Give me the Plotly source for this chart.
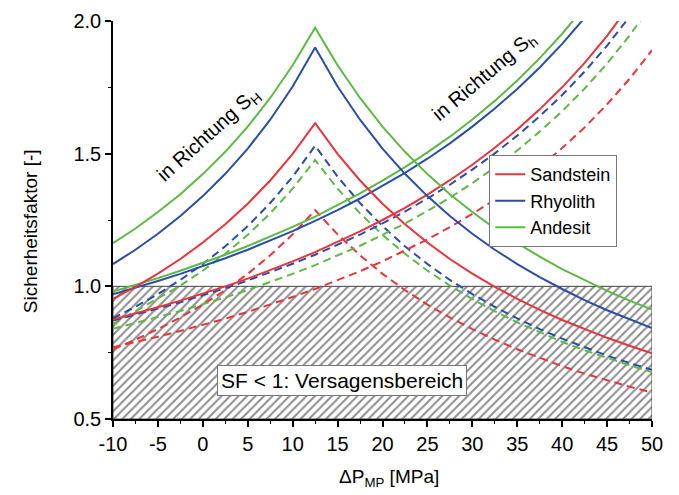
import plotly.graph_objects as go

# ---- data ----
dp_mpa = [-10, -7.5, -5, -2.5, 0, 2.5, 5, 7.5, 10, 12.5, 15, 17.5, 20, 22.5, 25,
          27.5, 30, 32.5, 35, 37.5, 40, 42.5, 45, 47.5, 50]

rocks = ["Sandstein", "Rhyolith", "Andesit"]

x_tickvals = [-10, -5, 0, 5, 10, 15, 20, 25, 30, 35, 40, 45, 50]
x_ticktext = ["-10", "-5", "0", "5", "10", "15", "20", "25", "30", "35", "40", "45", "50"]
y_tickvals = [0.5, 1.0, 1.5, 2.0]
y_ticktext = ["0.5", "1.0", "1.5", "2.0"]

# Richtung S_H (peaked curves), solid
sand_SH_solid = [0.953, 0.998, 1.048, 1.103, 1.165, 1.234, 1.311, 1.399, 1.499, 1.615, 1.499, 1.399, 1.311,
                 1.234, 1.165, 1.103, 1.048, 0.998, 0.953, 0.911, 0.873, 0.838, 0.806, 0.776, 0.748]
rhyo_SH_solid = [1.084, 1.138, 1.198, 1.265, 1.340, 1.424, 1.519, 1.628, 1.753, 1.900, 1.753, 1.628, 1.519,
                 1.424, 1.340, 1.265, 1.198, 1.138, 1.084, 1.035, 0.990, 0.948, 0.910, 0.875, 0.843]
ande_SH_solid = [1.163, 1.218, 1.280, 1.347, 1.423, 1.507, 1.602, 1.710, 1.833, 1.975, 1.833, 1.710, 1.602,
                 1.507, 1.423, 1.347, 1.280, 1.218, 1.163, 1.112, 1.065, 1.023, 0.983, 0.946, 0.912]
# Richtung S_H, dashed
sand_SH_dash = [0.763, 0.799, 0.839, 0.883, 0.931, 0.986, 1.047, 1.117, 1.196, 1.287, 1.196, 1.117, 1.047,
                0.986, 0.931, 0.883, 0.839, 0.799, 0.763, 0.730, 0.699, 0.671, 0.646, 0.622, 0.600]
rhyo_SH_dash = [0.879, 0.923, 0.971, 1.024, 1.084, 1.151, 1.227, 1.314, 1.413, 1.530, 1.413, 1.314, 1.227,
                1.151, 1.084, 1.024, 0.971, 0.923, 0.879, 0.839, 0.803, 0.770, 0.739, 0.711, 0.685]
ande_SH_dash = [0.858, 0.906, 0.952, 1.003, 1.059, 1.123, 1.194, 1.275, 1.368, 1.476, 1.368, 1.275, 1.194,
                1.123, 1.059, 1.003, 0.952, 0.906, 0.864, 0.826, 0.791, 0.759, 0.730, 0.702, 0.677]

# Richtung S_h (rising curves), solid
sand_Sh_solid = [0.875, 0.897, 0.921, 0.946, 0.972, 1.000, 1.029, 1.061, 1.094, 1.129, 1.167, 1.207, 1.250,
                 1.296, 1.346, 1.400, 1.458, 1.522, 1.591, 1.667, 1.750, 1.842, 1.944, 2.059, 2.188]
rhyo_Sh_solid = [0.970, 0.994, 1.020, 1.047, 1.076, 1.106, 1.138, 1.172, 1.208, 1.247, 1.287, 1.331, 1.378,
                 1.428, 1.481, 1.539, 1.602, 1.670, 1.744, 1.825, 1.914, 2.012, 2.120, 2.241, 2.377]
ande_Sh_solid = [0.980, 1.005, 1.031, 1.059, 1.088, 1.119, 1.152, 1.187, 1.224, 1.263, 1.305, 1.350, 1.398,
                 1.449, 1.505, 1.564, 1.629, 1.699, 1.776, 1.860, 1.952, 2.054, 2.167, 2.294, 2.436]
# Richtung S_h, dashed
sand_Sh_dash = [0.770, 0.789, 0.810, 0.832, 0.854, 0.878, 0.904, 0.931, 0.960, 0.990, 1.022, 1.057, 1.094,
                1.134, 1.177, 1.223, 1.273, 1.327, 1.386, 1.450, 1.521, 1.599, 1.686, 1.782, 1.890]
rhyo_Sh_dash = [0.871, 0.893, 0.916, 0.940, 0.966, 0.993, 1.022, 1.053, 1.085, 1.119, 1.156, 1.195, 1.237,
                1.282, 1.331, 1.383, 1.440, 1.501, 1.568, 1.641, 1.721, 1.809, 1.907, 2.016, 2.138]
ande_Sh_dash = [0.840, 0.861, 0.884, 0.907, 0.932, 0.958, 0.986, 1.016, 1.047, 1.080, 1.115, 1.153, 1.194,
                1.237, 1.284, 1.334, 1.389, 1.448, 1.512, 1.583, 1.660, 1.745, 1.840, 1.945, 2.063]

failure_x = [-10, 50, 50, -10, -10]
failure_y = [0.5, 0.5, 1.0, 1.0, 0.5]

# ---- styling ----
FONT = "Arial, Liberation Sans, Helvetica, sans-serif"
colors = {"Sandstein": "#E8343B", "Rhyolith": "#2A4EA6", "Andesit": "#5DB946"}

fig = go.Figure()

# hatched failure region
fig.add_trace(go.Scatter(
    x=failure_x, y=failure_y, mode="lines", fill="toself",
    fillcolor="white",
    fillpattern=dict(shape="/", fgcolor="#1a1a1a", bgcolor="white", size=6, solidity=0.33),
    line=dict(color="#444444", width=1), showlegend=False, hoverinfo="skip"))

series = [
    ("Sandstein", sand_SH_dash, "dash"), ("Rhyolith", rhyo_SH_dash, "dash"), ("Andesit", ande_SH_dash, "dash"),
    ("Sandstein", sand_Sh_dash, "dash"), ("Rhyolith", rhyo_Sh_dash, "dash"), ("Andesit", ande_Sh_dash, "dash"),
    ("Andesit", ande_Sh_solid, "solid"), ("Rhyolith", rhyo_Sh_solid, "solid"), ("Sandstein", sand_Sh_solid, "solid"),
    ("Sandstein", sand_SH_solid, "solid"), ("Rhyolith", rhyo_SH_solid, "solid"), ("Andesit", ande_SH_solid, "solid"),
]
for name, ys, style in series:
    fig.add_trace(go.Scatter(
        x=dp_mpa, y=ys, mode="lines", name=name, legendgroup=name, showlegend=False,
        hoverinfo="skip",
        line=dict(color=colors[name], width=2, dash="solid" if style == "solid" else "8px,5px")))

# legend entries in reference order
for name in rocks:
    fig.add_trace(go.Scatter(x=[None], y=[None], mode="lines", name=name, legendgroup=name,
                             line=dict(color=colors[name], width=2), showlegend=True))

# the page adds an 8px body margin, so the figure is 8px smaller and margins compensate
fig.update_layout(
    width=671, height=487,
    margin=dict(l=105, r=27, t=13, b=76, autoexpand=False),
    paper_bgcolor="white", plot_bgcolor="white",
    font=dict(family=FONT, size=19, color="black"),
    showlegend=True,
    legend=dict(x=0.698, y=0.663, xanchor="left", yanchor="top",
                bgcolor="white", bordercolor="#777777", borderwidth=1,
                font=dict(size=18), tracegroupgap=0, itemwidth=30),
    xaxis=dict(range=[-10, 50], tickvals=x_tickvals, ticktext=x_ticktext, showgrid=False, zeroline=False,
               automargin=False, showline=True, linecolor="black", linewidth=1.5,
               ticks="outside", ticklen=6, tickwidth=1.5, tickcolor="black",
               minor=dict(ticks="outside", ticklen=3, dtick=2.5, tick0=-10, tickcolor="black", tickwidth=1.2),
               tickfont=dict(size=20)),
    yaxis=dict(range=[0.5, 2.0], tickvals=y_tickvals, ticktext=y_ticktext, showgrid=False, zeroline=False,
               automargin=False, showline=True, linecolor="black", linewidth=1.5,
               ticks="outside", ticklen=6, tickwidth=1.5, tickcolor="black",
               minor=dict(ticks="outside", ticklen=3, dtick=0.25, tick0=0.5, tickcolor="black", tickwidth=1.2),
               tickfont=dict(size=20)),
)

fig.add_annotation(text="Sicherheitsfaktor [-]", xref="paper", yref="paper", x=-0.154, y=0.472,
                   textangle=-90, showarrow=False, font=dict(size=19), xanchor="center", yanchor="middle")
fig.add_annotation(text="ΔP<sub>MP</sub> [MPa]", xref="paper", yref="paper", x=0.512, y=-0.148,
                   showarrow=False, font=dict(size=19), xanchor="center", yanchor="middle")
fig.add_annotation(text="in Richtung S<sub>H</sub>", x=0.6, y=1.57, textangle=-42, showarrow=False,
                   font=dict(size=20))
fig.add_annotation(text="in Richtung S<sub>h</sub>", x=31.4, y=1.79, textangle=-40, showarrow=False,
                   font=dict(size=20))
fig.add_annotation(text="SF &lt; 1: Versagensbereich", x=15.5, y=0.647, showarrow=False,
                   font=dict(size=21), bgcolor="white", bordercolor="#777777", borderwidth=1, borderpad=3)

fig.write_html("out.html")
